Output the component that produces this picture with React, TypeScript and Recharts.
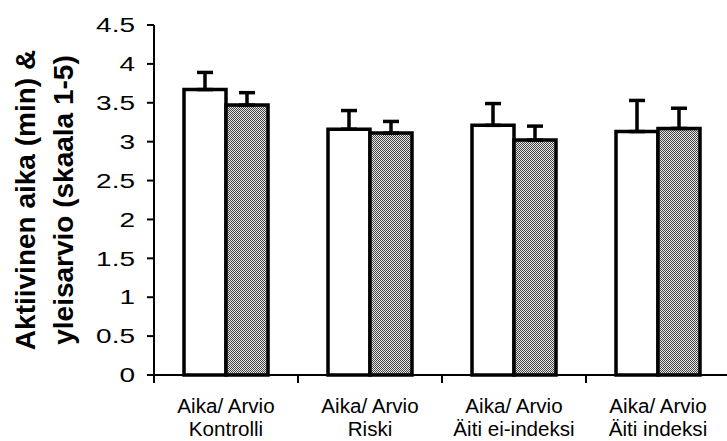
import React from 'react';
import { BarChart, Bar, XAxis, YAxis, ErrorBar } from 'recharts';

const categories = ['Kontrolli', 'Riski', 'Äiti ei-indeksi', 'Äiti indeksi'];
const categoryPrefix = 'Aika/ Arvio';
const aikaValues = [3.67, 3.16, 3.21, 3.13];
const aikaErrors = [0.22, 0.24, 0.28, 0.4];
const arvioValues = [3.47, 3.11, 3.02, 3.17];
const arvioErrors = [0.16, 0.15, 0.18, 0.26];
const yTicks = [0, 0.5, 1, 1.5, 2, 2.5, 3, 3.5, 4, 4.5];
const yLabelLines = ['Aktiivinen aika (min) &', 'yleisarvio (skaala 1-5)'];

const data = categories.map((c, i) => ({
  name: c,
  aika: aikaValues[i],
  aikaErr: [0, aikaErrors[i]],
  arvio: arvioValues[i],
  arvioErr: [0, arvioErrors[i]],
}));

const FONT = '"Liberation Sans", Arial, sans-serif';

const CatTick = (props: any) => {
  const { x, y, payload } = props;
  const half = payload && typeof payload.offset === 'number' ? payload.offset : 0;
  return (
    <g>
      <line x1={x - half} x2={x - half} y1={y} y2={y + 8} stroke="#000" strokeWidth={2} />
      <g transform={`translate(${x},${y}) scale(1.03,1)`}>
        <text x={0} y={38} textAnchor="middle" fontFamily={FONT} fontSize={20} fill="#000">
          {categoryPrefix}
        </text>
        <text x={0} y={61} textAnchor="middle" fontFamily={FONT} fontSize={20} fill="#000">
          {payload.value}
        </text>
      </g>
    </g>
  );
};

const YTick = (props: any) => {
  const { x, y, payload } = props;
  return (
    <g transform={`translate(${x},${y}) scale(1.4,1)`}>
      <text x={0} y={0} dy="0.36em" textAnchor="end" fontFamily={FONT} fontSize={20} fill="#000">
        {payload.value}
      </text>
    </g>
  );
};

const YLabel = (props: any) => {
  const vb = props.viewBox || { x: 0, y: 0, width: 0, height: 0 };
  const cy = vb.y + vb.height / 2;
  const x1 = vb.x + 35;
  const x2 = vb.x + 73;
  return (
    <g>
      <text x={x1} y={cy} transform={`rotate(-90, ${x1}, ${cy})`} textAnchor="middle" fontFamily={FONT} fontWeight="bold" fontSize={28} fill="#000">
        {yLabelLines[0]}
      </text>
      <text x={x2} y={cy} transform={`rotate(-90, ${x2}, ${cy})`} textAnchor="middle" fontFamily={FONT} fontWeight="bold" fontSize={28} fill="#000">
        {yLabelLines[1]}
      </text>
    </g>
  );
};

export default function App() {
  return (
    <div style={{ position: 'absolute', left: 0, top: 0, background: '#fff' }}>
      <BarChart
        width={727}
        height={441}
        data={data}
        margin={{ top: 25, right: -3, bottom: 0, left: 0 }}
        barGap={0}
        barSize={42}
      >
        <defs>
          <pattern id="stipple" width="2" height="2" patternUnits="userSpaceOnUse">
            <rect x="0" y="0" width="2" height="2" fill="#e6e6e6" />
            <rect x="0" y="0" width="1" height="1" fill="#454545" />
            <rect x="1" y="1" width="1" height="1" fill="#454545" />
          </pattern>
        </defs>
        <YAxis
          width={154}
          domain={[0, 4.5]}
          ticks={yTicks}
          interval={0}
          tickSize={7}
          tickMargin={12}
          axisLine={{ stroke: '#000', strokeWidth: 2 }}
          tickLine={{ stroke: '#000', strokeWidth: 2 }}
          tick={<YTick />}
          label={{ content: YLabel }}
        />
        <XAxis
          dataKey="name"
          height={66}
          interval={0}
          axisLine={{ stroke: '#000', strokeWidth: 2 }}
          tickLine={false}
          tickSize={0}
          tickMargin={0}
          tick={<CatTick />}
        />
        <Bar dataKey="aika" fill="#fff" stroke="#000" strokeWidth={3.5} isAnimationActive={false}>
          <ErrorBar dataKey="aikaErr" width={8} stroke="#000" strokeWidth={3.5} direction="y" isAnimationActive={false} />
        </Bar>
        <Bar dataKey="arvio" fill="url(#stipple)" stroke="#000" strokeWidth={3.5} isAnimationActive={false}>
          <ErrorBar dataKey="arvioErr" width={8} stroke="#000" strokeWidth={3.5} direction="y" isAnimationActive={false} />
        </Bar>
      </BarChart>
    </div>
  );
}
